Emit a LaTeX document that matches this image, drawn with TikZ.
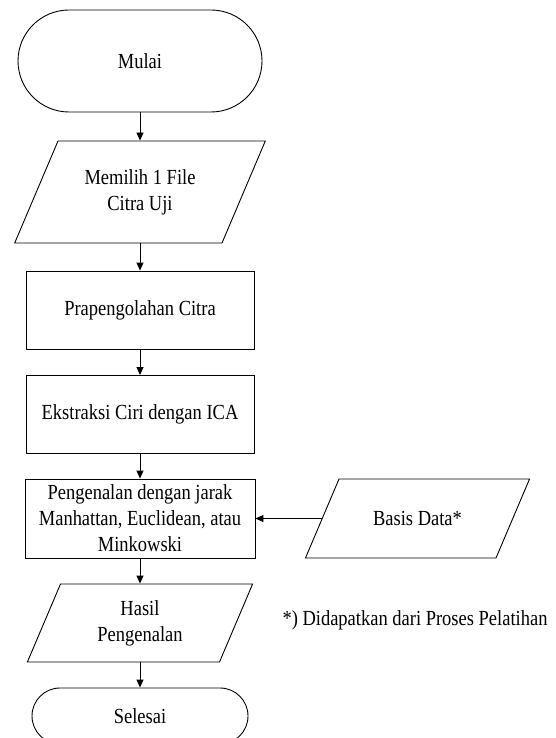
\documentclass[tikz,border=0pt]{standalone}
\usepackage{fontspec}
\setmainfont{Liberation Serif}[FakeStretch=0.86]
\usetikzlibrary{shapes.geometric, arrows.meta}

\begin{document}
\begin{tikzpicture}[x=1pt, y=-1pt, line width=0.9pt,
  every node/.style={font=\fontsize{21.5}{26}\selectfont, align=center, inner sep=0pt},
  terminal/.style={draw, rectangle, rounded corners=#1},
  process/.style={draw, rectangle, minimum width=228pt, minimum height=78pt},
  io/.style 2 args={draw, trapezium, trapezium left angle=67, trapezium right angle=113,
    inner xsep=#1, inner ysep=#2},
  arr/.style={-{Triangle[length=8pt, width=7pt]}}]
  \useasboundingbox (0,0) rectangle (556,738);
  % Main flow
  \node[terminal=51pt, minimum width=244pt, minimum height=102pt] (mulai) at (140,61) {Mulai};
  \node[io={82pt}{51pt}, label={center:Memilih 1 File\\Citra Uji}] (pilih) at (140,192) {};
  \node[process] (prapro) at (140,310) {Prapengolahan Citra};
  \node[process] (ekstraksi) at (140,414.5) {Ekstraksi Ciri dengan ICA};
  \node[process, minimum width=230pt, minimum height=79pt] (kenal) at (140,518.5) {Pengenalan dengan jarak\\Manhattan, Euclidean, atau\\Minkowski};
  \node[io={79.5pt}{39pt}, label={center:Hasil\\Pengenalan}] (hasil) at (140,623) {};
  \node[terminal=28pt, minimum width=216pt, minimum height=56pt] (selesai) at (140,716) {Selesai};
  \foreach \a/\b in {mulai/pilih, pilih/prapro, prapro/ekstraksi, ekstraksi/kenal, kenal/hasil, hasil/selesai}
    \draw[arr] (\a) -- (\b);
  % Database input
  \node[io={78.5pt}{39.5pt}, label={center:Basis Data*}] (basis) at (417.5,518.5) {};
  \draw[arr] (basis.left side) -- (kenal.east);
  % Note
  \node (catatan) at (415,620) {*) Didapatkan dari Proses Pelatihan};
\end{tikzpicture}
\end{document}
